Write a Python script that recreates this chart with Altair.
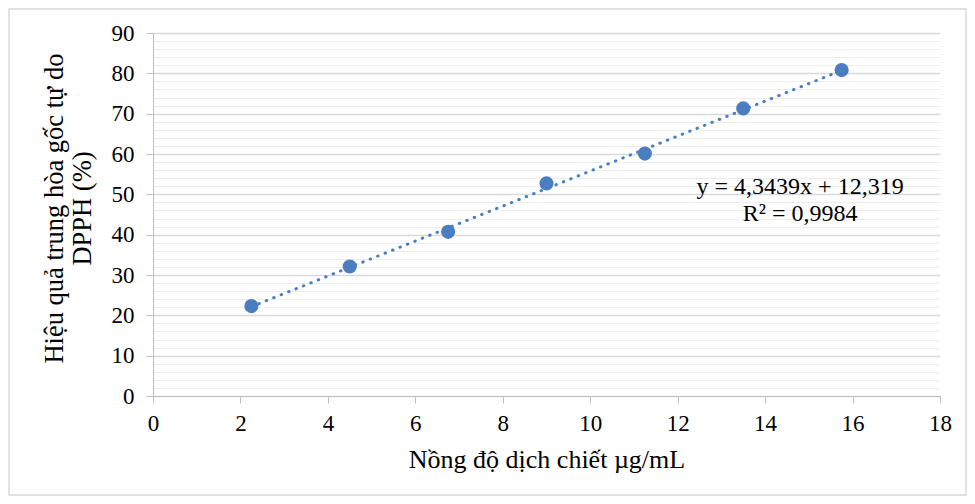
import altair as alt
import pandas as pd

conc = [2.25, 4.5, 6.75, 9.0, 11.25, 13.5, 15.75]
inhib = [22.3, 32.1, 40.7, 52.7, 60.1, 71.3, 80.8]
eq_lines = ["y = 4,3439x + 12,319", "R² = 0,9984"]
eq_x = [14.8, 14.8]
eq_y = [51.8, 45.1]
y_ticks = list(range(0, 91, 2))
x_ticks = list(range(0, 19, 2))

df = pd.DataFrame({"x": conc, "y": inhib})
eq_df = pd.DataFrame({"x": eq_x, "y": eq_y, "t": eq_lines})
border_df = pd.DataFrame({"a": [0]})

FONT = "Liberation Serif"
BLUE = "#4A7EC0"

xscale = alt.Scale(domain=[0, 18], nice=False, zero=True)
yscale = alt.Scale(domain=[0, 90], nice=False)

xaxis = alt.Axis(values=x_ticks, tickCount=20, grid=False, title="Nồng độ dịch chiết µg/mL",
                 labelOverlap=False, labelFlush=False,
                 domainColor="#BFBFBF", tickColor="#BFBFBF", tickSize=7,
                 labelFontSize=23, labelFont=FONT, labelColor="#000000",
                 labelPadding=9, titleFontSize=26, titleFont=FONT,
                 titleFontWeight="normal", titleColor="#000000", titlePadding=11)
yaxis = alt.Axis(values=y_ticks, tickCount=100, labelOverlap=False, labelFlush=False,
                 title=["Hiệu quả trung hòa gốc tự do", "DPPH (%)"],
                 gridColor={"condition": {"test": "datum.value % 10 === 0", "value": "#D9D9D9"},
                            "value": "#EDEDED"},
                 gridWidth={"condition": {"test": "datum.value % 10 === 0", "value": 1.5},
                            "value": 1},
                 tickOpacity={"condition": {"test": "datum.value % 10 === 0", "value": 1},
                              "value": 0},
                 labelExpr="datum.value % 10 === 0 ? datum.label : ''",
                 domainColor="#BFBFBF", tickColor="#BFBFBF", tickSize=7,
                 labelFontSize=23, labelFont=FONT, labelColor="#000000",
                 labelPadding=12, titleFontSize=26.5, titleFont=FONT,
                 titleFontWeight="normal", titleColor="#000000", titlePadding=15,
                 titleLineHeight=28, titleY=175)

base = alt.Chart(df)

points = base.mark_circle(size=200, color=BLUE, opacity=1).encode(
    x=alt.X("x:Q", scale=xscale, axis=xaxis),
    y=alt.Y("y:Q", scale=yscale, axis=yaxis),
)

trend = base.transform_regression("x", "y").mark_line(
    color=BLUE, strokeWidth=3, strokeDash=[0.5, 7.5], strokeCap="round"
).encode(x=alt.X("x:Q", scale=xscale), y=alt.Y("y:Q", scale=yscale))

eq = alt.Chart(eq_df).mark_text(font=FONT, fontSize=24, color="#000000").encode(
    x=alt.X("x:Q", scale=xscale), y=alt.Y("y:Q", scale=yscale), text="t:N"
)

border = alt.Chart(border_df).mark_rect(fill=None, stroke="#D9D9D9", strokeWidth=1.5).encode(
    x=alt.value(-144), x2=alt.value(813), y=alt.value(-24), y2=alt.value(462)
)

chart = alt.layer(border, trend, points, eq).properties(
    width=787, height=363,
    autosize=alt.AutoSizeParams(type="none"),
    padding={"left": 145, "top": 25, "right": 27, "bottom": 100},
    background="white",
).configure_view(stroke=None)

chart.save("out.html", embed_options={"renderer": "svg", "actions": False})
